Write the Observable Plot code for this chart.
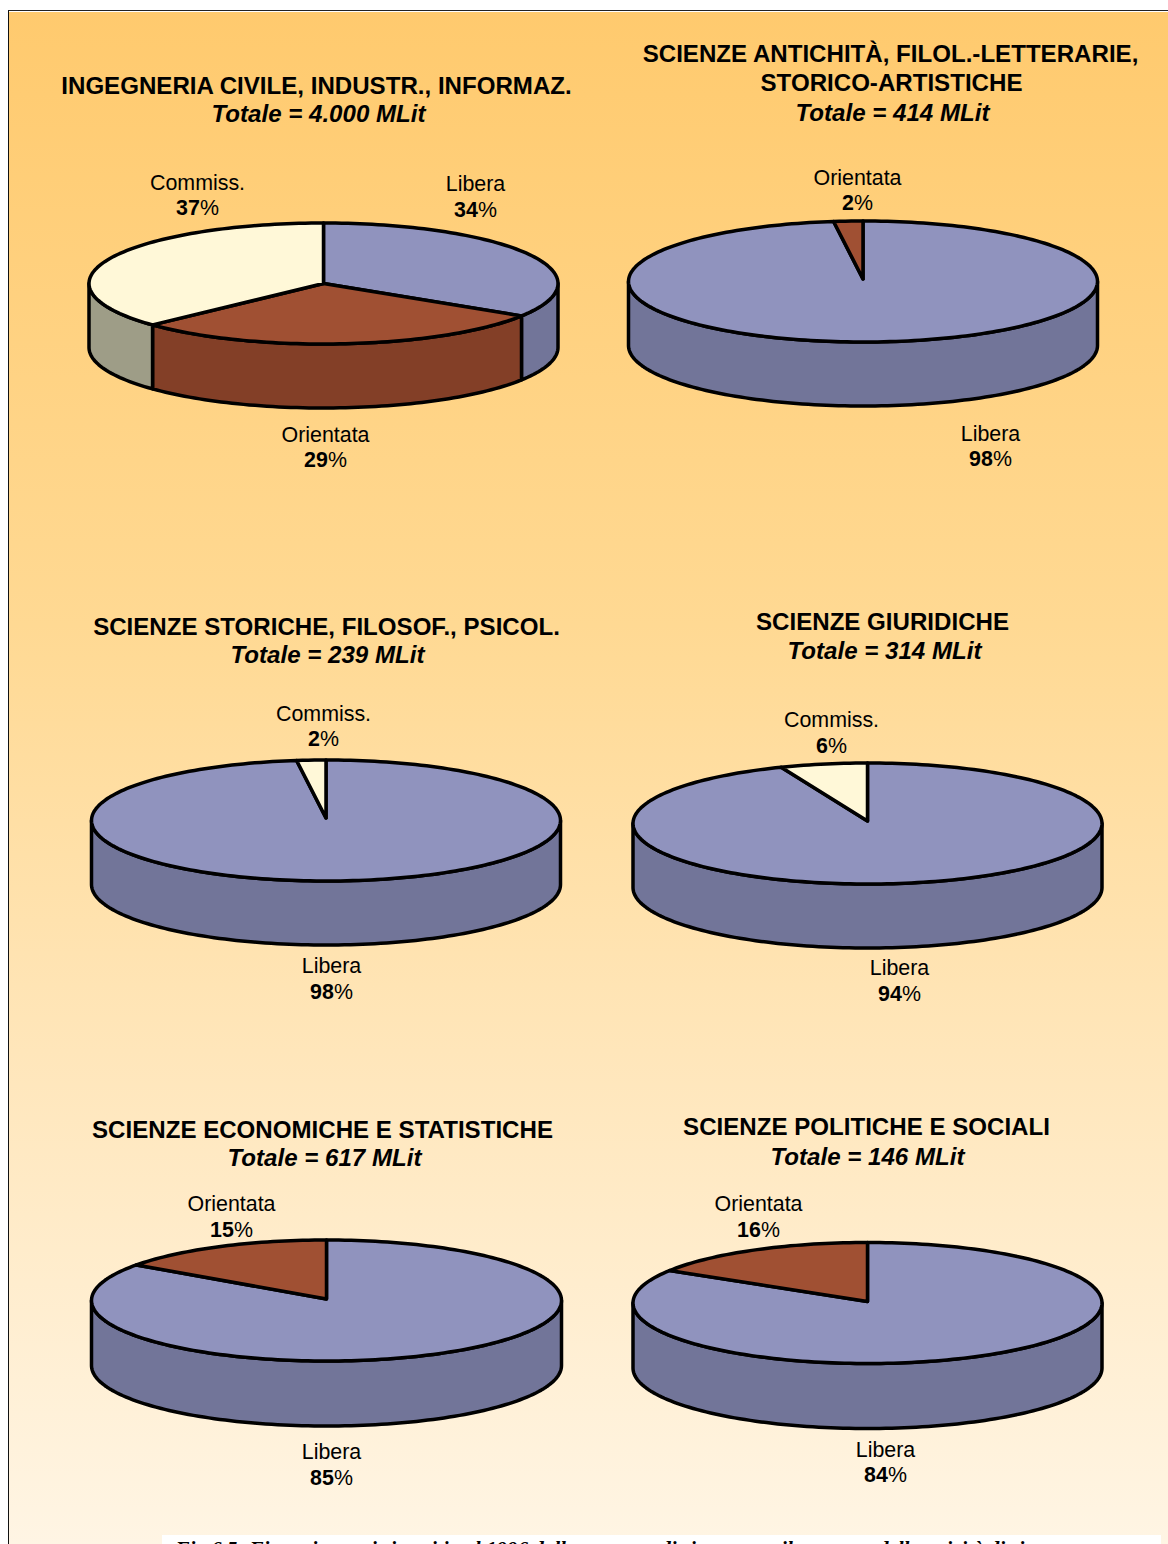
<!DOCTYPE html>
<html lang="it">
<head>
<meta charset="utf-8">
<title>Finanziamenti per area</title>
<script src="https://cdn.jsdelivr.net/npm/d3@7"></script>
<script src="https://cdn.jsdelivr.net/npm/@observablehq/plot@0.6"></script>
<style>
  html, body { margin: 0; padding: 0; background: #fff; }
  #page { position: relative; width: 1168px; height: 1544px; overflow: hidden; background: #fff; }
  #panel { position: absolute; left: 8px; top: 9.5px; right: 0; bottom: 0;
           border-left: 1.5px solid #111; border-top: 1.5px solid #222; }
  #fill { position: absolute; left: 0; right: 0; top: 1.5px; bottom: 0;
          background: linear-gradient(to bottom, #ffca6e 0%, #ffd993 40%, #ffe7bd 70%, #fff5e4 100%); }
  #page svg { position: absolute; left: 0; top: 0; }
</style>
</head>
<body>
<div id="page"><div id="panel"><div id="fill"></div></div></div>
<script>
// Funding split by discipline area: share of each kind of research funding.
const titles = [
  ["INGEGNERIA CIVILE, INDUSTR., INFORMAZ."],
  ["SCIENZE ANTICHITÀ, FILOL.-LETTERARIE,", "STORICO-ARTISTICHE"],
  ["SCIENZE STORICHE, FILOSOF., PSICOL."],
  ["SCIENZE GIURIDICHE"],
  ["SCIENZE ECONOMICHE E STATISTICHE"],
  ["SCIENZE POLITICHE E SOCIALI"]
];
const totals = ["4.000", "414", "239", "314", "617", "146"];
const sliceNames = [
  ["Libera", "Orientata", "Commiss."],
  ["Libera", "Orientata"],
  ["Libera", "Commiss."],
  ["Libera", "Commiss."],
  ["Libera", "Orientata"],
  ["Libera", "Orientata"]
];
const sliceValues = [
  [34, 29, 37],
  [98, 2],
  [98, 2],
  [94, 6],
  [85, 15],
  [84, 16]
];
const caption = "Fig.6.5: Finanziamenti ripartiti nel 1996 dalle strutture di ricerca per il sostegno delle attività di ricerca";

// Placement of each pie on the sheet (centre, radii, wall height, apex lift).
const pieFrames = [
  {cx: 323, cy: 283, rx: 234.5, ry: 60.5, depth: 64, apex: 0},
  {cx: 862.5, cy: 281, rx: 234.5, ry: 60.5, depth: 64, apex: 2.5},
  {cx: 325.5, cy: 820, rx: 234.5, ry: 60.5, depth: 64, apex: 2.5},
  {cx: 867, cy: 823, rx: 234.5, ry: 60.5, depth: 64, apex: 2.5},
  {cx: 326, cy: 1300, rx: 235, ry: 60.5, depth: 65, apex: 1.5},
  {cx: 867, cy: 1302.5, rx: 234.5, ry: 60.5, depth: 65, apex: 1.5}
];
// Heading anchors: one [x, y] per heading line, then the total line.
const headingAnchors = [
  [[316, 86], [318, 114]],
  [[890, 54], [891, 83], [892, 113]],
  [[326, 627], [327, 655]],
  [[882, 622], [884, 651]],
  [[322, 1130], [324, 1158]],
  [[866, 1127], [867, 1157]]
];
// Slice label anchors, in slice order: [x, y of name, y of percentage].
const labelAnchors = [
  [[475, 184, 210], [325, 435, 460], [197, 183, 208]],
  [[990, 434, 459], [857, 178, 203]],
  [[331, 966, 992], [323, 714, 739]],
  [[899, 968, 994], [831, 720, 746]],
  [[331, 1452, 1478], [231, 1204, 1230]],
  [[885, 1450, 1475], [758, 1204, 1230]]
];

const labelSize = 21.4;
const headingSize = 24.1;
const TAU = Math.PI * 2;

const rimPoint = (f, a, lift = 0) => ({
  x: f.cx + f.rx * Math.sin(a * TAU),
  y: f.cy + lift - f.ry * Math.cos(a * TAU)
});
const arcSteps = (a, b) => d3.range(0, 1.0001, 1 / Math.max(2, Math.ceil((b - a) * 240)))
  .map((t) => a + (b - a) * t);

// Wall polygons first, then the slices on top of them.
const walls = [];
const tops = [];
sliceValues.forEach((values, p) => {
  const f = pieFrames[p];
  let start = 0;
  values.forEach((v, i) => {
    const end = start + v / 100;
    const name = sliceNames[p][i];
    const id = `${p}-${i}`;
    [{x: f.cx, y: f.cy - f.apex}, ...arcSteps(start, end).map((a) => rimPoint(f, a))]
      .forEach((pt) => tops.push({...pt, id, kind: name}));
    const a0 = Math.max(start, 0.25);
    const a1 = Math.min(end, 0.75);
    if (a1 > a0) {
      const arc = arcSteps(a0, a1);
      [...arc.map((a) => rimPoint(f, a)), ...arc.reverse().map((a) => rimPoint(f, a, f.depth))]
        .forEach((pt) => walls.push({...pt, id, kind: name + " lato"}));
    }
    start = end;
  });
});
const closed = (rows) => {
  // Close every outline so the stroke runs round the whole polygon.
  const out = [];
  for (const group of d3.group(rows, (d) => d.id).values()) out.push(...group, group[0]);
  return out;
};

const headingRows = titles.flatMap((lines, p) => lines.map((text, i) => ({
  text, x: headingAnchors[p][i][0], y: headingAnchors[p][i][1]
})));
const totalRows = totals.map((t, p) => {
  const [x, y] = headingAnchors[p][titles[p].length];
  return {text: `Totale = ${t} MLit`, x, y};
});
const labelRows = sliceValues.flatMap((values, p) => values.map((v, i) => {
  const [x, yName, yPct] = labelAnchors[p][i];
  // Digits are bold and the percent sign is not: they meet at this x.
  const split = x + labelSize * (String(v).length * 0.556 - 0.889) / 2;
  return {name: sliceNames[p][i], value: String(v), x, split, yName, yPct};
}));

const sans = "'Liberation Sans', Arial, sans-serif";
const chart = Plot.plot({
  width: 1168, height: 1544,
  margin: 0,
  style: {background: "transparent", fontFamily: sans},
  x: {domain: [0, 1168], range: [0, 1168], axis: null},
  y: {domain: [0, 1544], range: [0, 1544], axis: null},
  color: {
    domain: ["Libera", "Orientata", "Commiss.", "Libera lato", "Orientata lato", "Commiss. lato"],
    range: ["#9093be", "#a05033", "#fff8d8", "#727599", "#833f27", "#9e9d87"]
  },
  marks: [
    Plot.line(closed(walls), {x: "x", y: "y", z: "id", fill: "kind", stroke: "#000", strokeWidth: 3.5, strokeLinejoin: "round"}),
    Plot.line(closed(tops), {x: "x", y: "y", z: "id", fill: "kind", stroke: "#000", strokeWidth: 3.5, strokeLinejoin: "round"}),
    Plot.text(headingRows, {x: "x", y: "y", text: "text", fontSize: headingSize, fontWeight: "bold", fill: "#000"}),
    Plot.text(totalRows, {x: "x", y: "y", text: "text", fontSize: headingSize, fontWeight: "bold", fontStyle: "italic", fill: "#000"}),
    Plot.text(labelRows, {x: "x", y: "yName", text: "name", fontSize: labelSize, fill: "#000"}),
    Plot.text(labelRows, {x: "split", y: "yPct", text: "value", textAnchor: "end", fontSize: labelSize, fontWeight: "bold", fill: "#000"}),
    Plot.text(labelRows, {x: "split", y: "yPct", text: () => "%", textAnchor: "start", fontSize: labelSize, fill: "#000"}),
    // White caption box, cut off by the lower edge of the sheet.
    Plot.rect([0], {x1: () => 162, x2: () => 1161, y1: () => 1535, y2: () => 1544, fill: "#fff"}),
    Plot.text([caption], {x: () => 175, y: () => 1548.3, text: (d) => d, textAnchor: "start", fontFamily: "'Liberation Serif',serif", fontSize: 21, fontWeight: "bold", fontStyle: "italic", fill: "#000"})
  ]
});
document.getElementById("page").appendChild(chart);
</script>
</body>
</html>
